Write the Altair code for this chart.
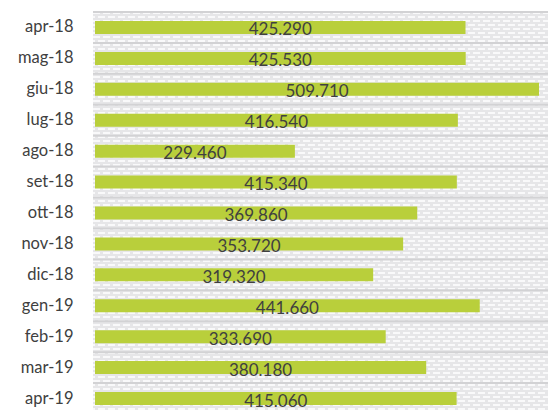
import altair as alt
import pandas as pd

months = ["apr-18", "mag-18", "giu-18", "lug-18", "ago-18", "set-18", "ott-18",
          "nov-18", "dic-18", "gen-19", "feb-19", "mar-19", "apr-19"]
values = [425.290, 425.530, 509.710, 416.540, 229.460, 415.340, 369.860,
          353.720, 319.320, 441.660, 333.690, 380.180, 415.060]

df = pd.DataFrame({"mese": months, "valore": values})

W = 455
H = 398
FONT = "Lato"

ysc = alt.Scale(domain=months, range=[0, 402], paddingInner=0, paddingOuter=0)
xsc = alt.Scale(domain=[-2.3, 520.0], nice=False, zero=False)

bg = alt.Chart(pd.DataFrame({"z": [0]})).mark_rect(color="#e6e6e8").encode(
    x=alt.value(0), x2=alt.value(W), y=alt.value(0), y2=alt.value(H)
)

# hatched background pattern (decoration)
pat_a = alt.Chart(alt.sequence(1, H, 8, as_="py")).mark_rule(
    color="white", strokeWidth=1.5, strokeDash=[7, 3]
).encode(y=alt.Y("py:Q", scale=None), x=alt.value(0), x2=alt.value(W))
pat_b = alt.Chart(alt.sequence(5, H, 8, as_="py")).mark_rule(
    color="white", strokeWidth=1.5, strokeDash=[7, 3], strokeDashOffset=5
).encode(y=alt.Y("py:Q", scale=None), x=alt.value(0), x2=alt.value(W))

seps = alt.Chart(df).mark_rule(color="#d2d2d4", strokeWidth=2).encode(
    y=alt.Y("mese:N", scale=ysc, sort=months, bandPosition=0),
    x=alt.value(0), x2=alt.value(W),
)

bars = alt.Chart(df).mark_bar(color="#b9cf3b", size=13).encode(
    y=alt.Y("mese:N", scale=ysc, sort=months, title=None,
            axis=alt.Axis(labelFont=FONT, labelFontSize=16.5, labelColor="#404040",
                          labelPadding=20, ticks=False, domain=False, grid=False)),
    x=alt.X("valore:Q", scale=xsc, axis=None),
    x2=alt.datum(0),
)

labels = alt.Chart(df).transform_calculate(mid="datum.valore / 2").mark_text(
    font=FONT, fontSize=17, color="#404040", baseline="middle", dy=3
).encode(
    y=alt.Y("mese:N", scale=ysc, sort=months),
    x=alt.X("mid:Q", scale=xsc),
    text=alt.Text("valore:Q", format=".3f"),
)

chart = alt.layer(bg, pat_a, pat_b, seps, bars, labels).properties(
    width=W, height=H,
    autosize=alt.AutoSizeParams(type="none"),
    padding={"left": 85, "top": 4, "right": 0, "bottom": 0},
).configure_view(stroke="#d2d2d4", strokeWidth=1.5).configure(
    background="white"
)

chart.save("out.html", embed_options={"renderer": "svg", "actions": False})
